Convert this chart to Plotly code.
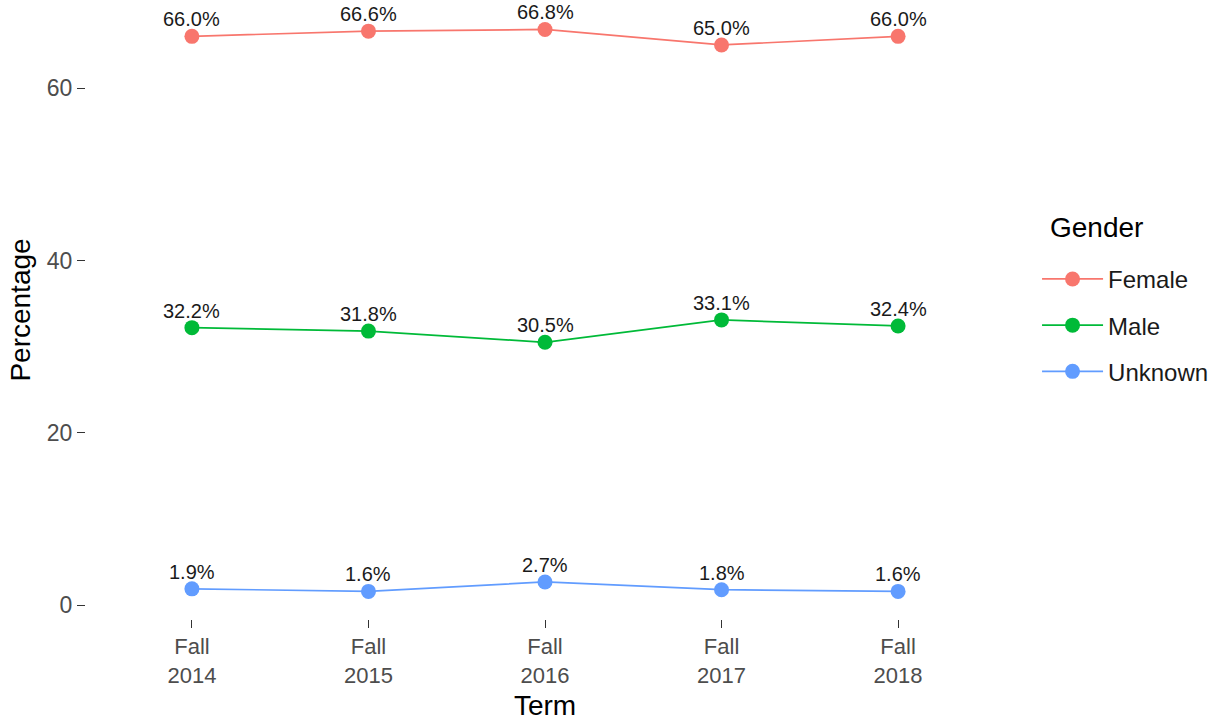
import plotly.graph_objects as go

terms = ["Fall<br>2014", "Fall<br>2015", "Fall<br>2016", "Fall<br>2017", "Fall<br>2018"]
female = [66.0, 66.6, 66.8, 65.0, 66.0]
male = [32.2, 31.8, 30.5, 33.1, 32.4]
unknown = [1.9, 1.6, 2.7, 1.8, 1.6]
series_names = ["Female", "Male", "Unknown"]
series_values = [female, male, unknown]
colors = ["#F8766D", "#00BA38", "#619CFF"]

FONT = "Liberation Sans, Arial, sans-serif"

fig = go.Figure()
annotations = []
for name, vals, col in zip(series_names, series_values, colors):
    fig.add_trace(go.Scatter(
        x=terms, y=vals, name=name, legendgroup=name,
        mode="lines+markers",
        line=dict(color=col, width=1.7),
        marker=dict(color=col, size=15),
        cliponaxis=False,
    ))
    for t, v in zip(terms, vals):
        annotations.append(dict(
            x=t, y=v, xref="x", yref="y", text=f"{v:.1f}%",
            showarrow=False, yshift=17,
            font=dict(family=FONT, size=20, color="#1a1a1a"),
        ))

annotations.append(dict(
    x=1.048, y=0.633, xref="paper", yref="paper", xanchor="left", yanchor="middle",
    text="Gender", showarrow=False,
    font=dict(family=FONT, size=28, color="#000000"),
))

fig.update_layout(
    width=1220, height=721,
    paper_bgcolor="white", plot_bgcolor="white",
    margin=dict(l=86, r=216, t=1, b=102, autoexpand=False),
    font=dict(family=FONT, size=22, color="#4d4d4d"),
    showlegend=True,
    annotations=annotations,
    legend=dict(
        font=dict(family=FONT, size=24, color="#1a1a1a"),
        x=1.036, xanchor="left", y=0.586, yanchor="top",
        tracegroupgap=12, itemwidth=61,
    ),
    xaxis=dict(
        type="category", range=[-0.6, 4.6], automargin=False,
        showgrid=False, zeroline=False, showline=False,
        ticks="outside", ticklen=8, tickcolor="#333333", tickwidth=1.2,
        tickfont=dict(family=FONT, size=22, color="#4d4d4d"),
        title=dict(text="Term", font=dict(family=FONT, size=28, color="#000000"), standoff=10),
    ),
    yaxis=dict(
        range=[-1.6, 70.1], automargin=False,
        tickvals=[0, 20, 40, 60],
        showgrid=False, zeroline=False, showline=False,
        ticks="outside", ticklen=8, tickcolor="#333333", tickwidth=1.2,
        tickfont=dict(family=FONT, size=23, color="#4d4d4d"),
        title=dict(text="Percentage", font=dict(family=FONT, size=28, color="#000000"), standoff=8),
    ),
)

fig.write_html("out.html", config={"displayModeBar": False},
               post_script="document.body.style.margin='0';")
